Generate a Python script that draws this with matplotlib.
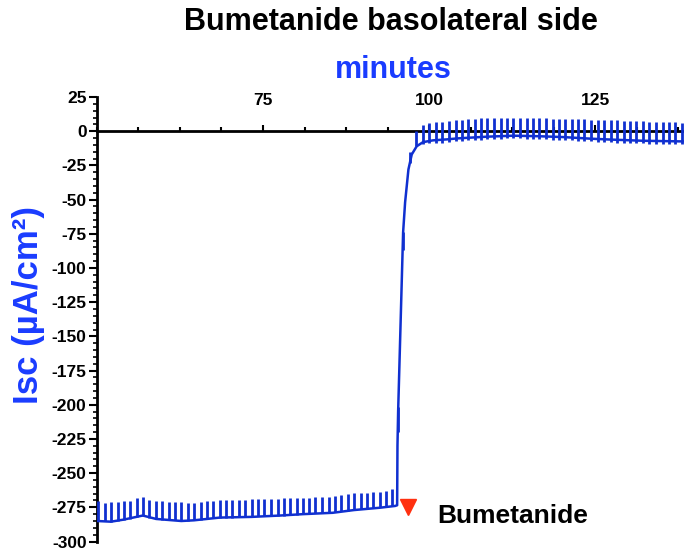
import matplotlib.pyplot as plt
from matplotlib.ticker import MultipleLocator

plt.rcParams['font.family'] = ['Liberation Sans', 'DejaVu Sans']
plt.rcParams['font.weight'] = 'bold'
plt.rcParams['axes.unicode_minus'] = False

# slow baseline of the Isc trace (minutes, uA/cm2)
trace_t = [50.0, 52.1, 54.0, 56.9, 58.9, 62.7, 64.6, 68.5, 73.3, 77.6, 81.0, 85.5,
           88.7, 92.6, 94.9, 95.2, 95.25, 95.35, 96.1, 96.4, 96.9, 97.4, 98.15, 99.1,
           100.6, 102.7, 104.2, 108.8, 112.7, 116.6, 120.2, 124.4, 127.7, 132.2, 138.4]
trace_v = [-285.0, -285.5, -284.0, -281.0, -283.5, -285.0, -284.5, -282.5, -282.0, -281.0,
           -280.0, -279.0, -277.0, -275.3, -274.0, -273.5, -230.0, -205.0, -74.0, -52.0,
           -28.0, -17.0, -11.0, -8.0, -6.7, -6.0, -5.3, -4.0, -3.3, -3.7, -4.3, -5.5,
           -6.2, -7.0, -7.5]

# voltage pulses: time, bottom and tip of each spike
pulse_t = [50.2, 51.2, 52.1, 53.1, 54.0, 55.0, 56.0, 56.9, 57.9, 58.9, 59.8, 60.8,
           61.8, 62.7, 63.7, 64.6, 65.6, 66.6, 67.5, 68.5, 69.5, 70.4, 71.4, 72.3,
           73.3, 74.3, 75.2, 76.2, 77.2, 78.1, 79.1, 80.1, 81.0, 82.0, 82.9, 83.9,
           84.9, 85.8, 86.8, 87.8, 88.7, 89.7, 90.6, 91.6, 92.6, 93.5, 94.5,
           95.4, 96.1, 97.2, 98.1, 99.1, 100.0, 101.0, 102.0, 103.0, 104.0, 104.9,
           105.9, 106.9, 107.8, 108.8, 109.8, 110.8, 111.8, 112.7, 113.7, 114.7,
           115.6, 116.6, 117.6, 118.6, 119.6, 120.5, 121.5, 122.5, 123.4, 124.4,
           125.4, 126.4, 127.4, 128.3, 129.3, 130.3, 131.2, 132.2, 133.2, 134.2,
           135.2, 136.1, 137.1, 138.1]
pulse_lo = [-285.0, -285.0, -285.5, -285.0, -284.0, -283.5, -282.0, -281.0, -282.5, -283.5,
            -284.0, -284.0, -284.5, -285.0, -285.0, -284.5, -284.0, -283.0, -282.5, -282.5,
            -282.5, -282.5, -282.0, -282.0, -282.0, -281.5, -281.5, -281.0, -281.0, -281.0,
            -280.5, -280.5, -280.0, -280.0, -279.5, -279.0, -279.0, -278.5, -278.0, -277.5,
            -277.0, -276.5, -276.0, -275.5, -275.0, -274.5, -274.0,
            -220.0, -87.0, -23.0, -11.0, -9.5, -9.0, -8.8, -8.5, -8.0, -7.5, -7.0,
            -6.7, -6.4, -6.1, -5.8, -5.6, -5.4, -5.3, -5.3, -5.3, -5.4, -5.5, -5.7,
            -5.9, -6.1, -6.3, -6.5, -6.8, -7.0, -7.3, -7.5, -7.7, -7.9, -8.1, -8.3,
            -8.5, -8.7, -8.9, -9.0, -9.1, -9.2, -9.3, -9.4, -9.4, -9.5]
pulse_hi = [-270.4, -271.6, -271.3, -270.9, -270.4, -270.1, -268.4, -267.2, -269.6, -270.4,
            -270.4, -270.9, -270.9, -271.3, -271.8, -271.6, -270.9, -270.4, -270.1, -269.9,
            -269.9, -269.6, -269.6, -269.4, -269.1, -269.1, -268.9, -268.7, -268.7, -268.4,
            -268.4, -268.4, -268.2, -267.9, -267.7, -267.4, -267.2, -266.7, -266.2, -265.2,
            -264.7, -264.3, -264.3, -264.0, -263.8, -263.0, -261.8,
            -202.0, -74.0, -15.0, 0.0, 4.3, 6.0, 6.5, 7.0, 7.5, 8.0, 8.5,
            9.0, 9.2, 9.4, 9.6, 9.7, 9.8, 9.9, 9.9, 9.8, 9.7, 9.6, 9.5,
            9.4, 9.2, 9.0, 8.9, 8.8, 8.7, 8.6, 8.5, 8.4, 8.3, 8.2, 8.0,
            7.8, 7.6, 7.4, 7.2, 7.0, 6.8, 6.6, 6.5, 6.4, 6.3]

drug_time = 96.8
drug_level = -275.0

trace_color = '#1030d0'
label_color = '#1a3cff'

fig = plt.figure(figsize=(6.84, 5.52), dpi=100)
ax = fig.add_axes([0.1418, 0.019, 0.8582, 0.8053])

ax.plot(trace_t, trace_v, color=trace_color, lw=1.8, solid_capstyle='butt', zorder=3)
ax.vlines(pulse_t, pulse_lo, pulse_hi, color=trace_color, lw=2.0, zorder=3)

ax.set_xlim(50, 138.4)
ax.set_ylim(-300, 25)

# x axis drawn along y = 0 with labels on top
ax.spines['top'].set_position(('data', 0))
ax.spines['right'].set_visible(False)
ax.spines['bottom'].set_visible(False)
for s in ['top', 'left']:
    ax.spines[s].set_linewidth(2)
    ax.spines[s].set_zorder(2)

ax.xaxis.set_ticks_position('top')
ax.xaxis.set_minor_locator(MultipleLocator(6.25))
ax.set_xticks([75, 100, 125])
ax.tick_params(axis='x', which='major', direction='out', length=4, width=1.5,
               pad=13, labelsize=12.5)
ax.tick_params(axis='x', which='minor', direction='out', length=3, width=1.5)

ax.yaxis.set_major_locator(MultipleLocator(25))
ax.yaxis.set_minor_locator(MultipleLocator(5))
ax.tick_params(axis='y', which='major', direction='out', length=6, width=1.5,
               pad=1.5, labelsize=12.5)
ax.tick_params(axis='y', which='minor', direction='out', length=3, width=1.2)

ax.set_ylabel('Isc (µA/cm²)', color=label_color, fontsize=25, fontweight='bold')
ax.yaxis.set_label_coords(-0.088, 0.532)

fig.text(0.572, 0.96, 'Bumetanide basolateral side', ha='center', va='center',
         fontsize=22, fontweight='bold')
fig.text(0.575, 0.874, 'minutes', ha='center', va='center', color=label_color,
         fontsize=22, fontweight='bold')

# drug addition marker
ax.plot([drug_time], [drug_level], marker='v', color='#ff3010', ms=11,
        clip_on=False, zorder=4)
ax.text(101.2, -281, 'Bumetanide', ha='left', va='center', fontsize=19,
        fontweight='bold')

fig.savefig('out.png', dpi=100)
